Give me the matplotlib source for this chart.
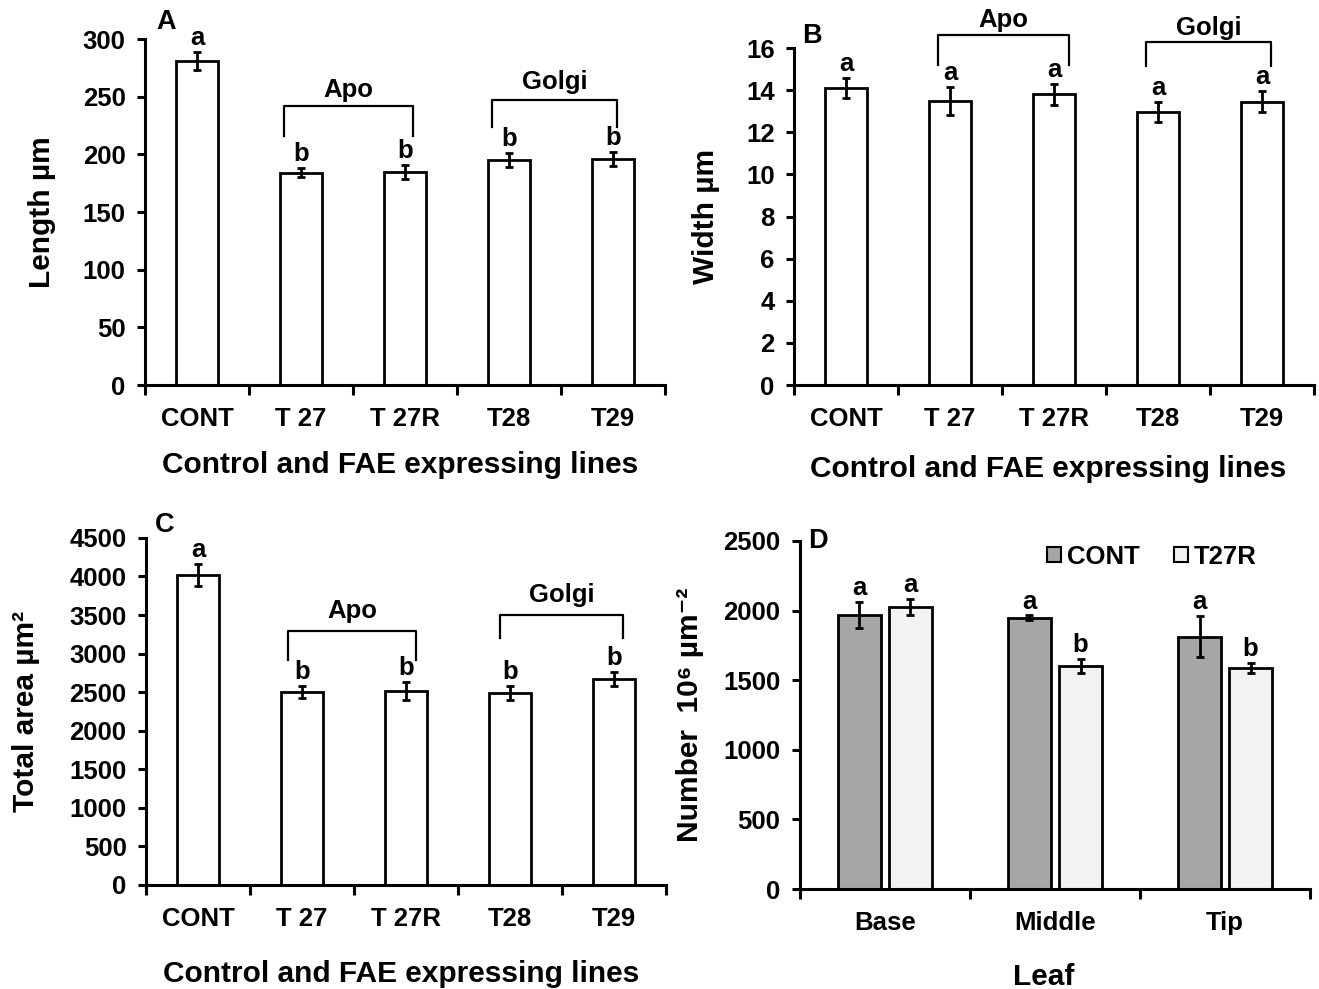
import numpy as np
import matplotlib
matplotlib.use("Agg")
import matplotlib.pyplot as plt
from matplotlib.patches import Patch

plt.rcParams['font.family'] = ['Liberation Sans', 'DejaVu Sans']
plt.rcParams['font.weight'] = 'bold'
plt.rcParams['axes.labelweight'] = 'bold'

# lines and measurements
lines = ["CONT", "T 27", "T 27R", "T28", "T29"]

length_mean = [281, 184, 185, 195, 196]
length_err = [8, 4, 6, 6, 6]
length_sig = ["a", "b", "b", "b", "b"]

width_mean = [14.1, 13.5, 13.8, 12.95, 13.45]
width_err = [0.47, 0.66, 0.48, 0.48, 0.5]
width_sig = ["a", "a", "a", "a", "a"]

area_mean = [4024, 2505, 2518, 2488, 2674]
area_err = [143, 76, 115, 87, 91]
area_sig = ["a", "b", "b", "b", "b"]

leaf_parts = ["Base", "Middle", "Tip"]
number_cont = [1968, 1950, 1812]
number_cont_err = [93, 15, 147]
number_cont_sig = ["a", "a", "a"]
number_t27r = [2027, 1603, 1589]
number_t27r_err = [58, 52, 35]
number_t27r_sig = ["a", "b", "b"]

FS = 18.5    # ticks, letters, group names
LFS = 21.5   # axis titles
LW = 2.0


def style_axes(ax, labels, ylim, yticks):
    n = len(labels)
    ax.set_xlim(-0.5, n - 0.5)
    ax.set_ylim(*ylim)
    ax.set_yticks(yticks)
    ax.set_xticks(np.arange(n + 1) - 0.5)
    ax.set_xticklabels([])
    ax.set_xticks(np.arange(n), minor=True)
    ax.set_xticklabels(labels, minor=True, fontsize=FS)
    ax.tick_params(axis='x', which='minor', length=0, pad=16)
    ax.tick_params(axis='x', which='major', length=7, width=2.2, direction='out')
    ax.tick_params(axis='y', length=6, width=2.2, labelsize=FS, pad=8)
    for s in ['top', 'right']:
        ax.spines[s].set_visible(False)
    for s in ['left', 'bottom']:
        ax.spines[s].set_linewidth(2.2)


def sig_letters(ax, xs, tops, letters):
    for x, t, s in zip(xs, tops, letters):
        ax.annotate(s, (x, t), xytext=(0, 5), textcoords='offset points',
                    ha='center', va='baseline', fontsize=FS, annotation_clip=False)


def bracket(ax, x0, x1, y_end, y_top, y_text, label):
    ax.plot([x0, x0, x1, x1], [y_end, y_top, y_top, y_end], color='black',
            lw=1.6, clip_on=False, solid_joinstyle='round')
    ax.text((x0 + x1) / 2, y_text, label, ha='center', va='center', fontsize=FS,
            clip_on=False)


def line_panel(ax, mean, err, sig, ylim, yticks):
    x = np.arange(len(lines))
    ax.bar(x, mean, width=0.4, color='white', edgecolor='black', linewidth=LW,
           yerr=err, error_kw=dict(ecolor='black', elinewidth=LW, capsize=3, capthick=LW))
    style_axes(ax, lines, ylim, yticks)
    sig_letters(ax, x, np.array(mean) + np.array(err), sig)


fig = plt.figure(figsize=(13.19, 9.89), dpi=100)

# A: length
axA = fig.add_axes([0.1099, 0.6107, 0.3942, 0.3498])
line_panel(axA, length_mean, length_err, length_sig, (0, 300), np.arange(0, 301, 50))
bracket(axA, 0.84, 2.08, 216, 242, 256, "Apo")
bracket(axA, 2.84, 4.04, 224, 247.5, 263, "Golgi")
axA.set_ylabel("Length µm", fontsize=LFS)
axA.yaxis.set_label_coords(-0.172, 0.5)
axA.set_xlabel("Control and FAE expressing lines", fontsize=LFS)
axA.xaxis.set_label_coords(0.49, -0.19)
axA.text(0.04, 1.05, "A", transform=axA.transAxes, fontsize=19.5, ha='center', va='center')

# B: width
axB = fig.add_axes([0.602, 0.6107, 0.3942, 0.3407])
line_panel(axB, width_mean, width_err, width_sig, (0, 16), np.arange(0, 17, 2))
bracket(axB, 0.88, 2.14, 15.2, 16.63, 17.35, "Apo")
bracket(axB, 2.88, 4.09, 15.13, 16.31, 16.95, "Golgi")
axB.set_ylabel("Width µm", fontsize=LFS)
axB.yaxis.set_label_coords(-0.143, 0.5)
axB.set_xlabel("Control and FAE expressing lines", fontsize=LFS)
axB.xaxis.set_label_coords(0.488, -0.207)
axB.text(0.035, 1.036, "B", transform=axB.transAxes, fontsize=19.5, ha='center', va='center')

# C: total area
axC = fig.add_axes([0.1107, 0.1052, 0.3942, 0.3509])
line_panel(axC, area_mean, area_err, area_sig, (0, 4500), np.arange(0, 4501, 500))
bracket(axC, 0.87, 2.1, 2920, 3288, 3547, "Apo")
bracket(axC, 2.9, 4.09, 3202, 3504, 3764, "Golgi")
axC.set_ylabel("Total area µm²", fontsize=LFS)
axC.yaxis.set_label_coords(-0.203, 0.5)
axC.set_xlabel("Control and FAE expressing lines", fontsize=LFS)
axC.xaxis.set_label_coords(0.49, -0.217)
axC.text(0.035, 1.037, "C", transform=axC.transAxes, fontsize=19.5, ha='center', va='center')

# D: number per leaf part
axD = fig.add_axes([0.6065, 0.1011, 0.3867, 0.3519])
xd = np.arange(len(leaf_parts))
ek = dict(ecolor='black', elinewidth=LW, capsize=3, capthick=LW)
axD.bar(xd - 0.15, number_cont, width=0.25, color='#a6a6a6', edgecolor='black',
        linewidth=LW, yerr=number_cont_err, error_kw=ek)
axD.bar(xd + 0.15, number_t27r, width=0.25, color='#f2f2f2', edgecolor='black',
        linewidth=LW, yerr=number_t27r_err, error_kw=ek)
style_axes(axD, leaf_parts, (0, 2500), np.arange(0, 2501, 500))
sig_letters(axD, xd - 0.15, np.array(number_cont) + np.array(number_cont_err), number_cont_sig)
sig_letters(axD, xd + 0.15, np.array(number_t27r) + np.array(number_t27r_err), number_t27r_sig)
handles = [Patch(facecolor='#a6a6a6', edgecolor='black', lw=1.5),
           Patch(facecolor='#f2f2f2', edgecolor='black', lw=1.5)]
axD.legend(handles, ["CONT", "T27R"], loc='center', bbox_to_anchor=(0.69, 0.955),
           ncol=2, frameon=False, handlelength=0.55, handleheight=0.55,
           handletextpad=0.25, columnspacing=1.3, fontsize=FS)
axD.set_ylabel("Number  10⁶ µm⁻²", fontsize=LFS)
axD.yaxis.set_label_coords(-0.188, 0.5)
axD.set_xlabel("Leaf", fontsize=LFS)
axD.xaxis.set_label_coords(0.478, -0.213)
axD.text(0.035, 1.0, "D", transform=axD.transAxes, fontsize=19.5, ha='center', va='center')

fig.savefig("out.png", dpi=100)
